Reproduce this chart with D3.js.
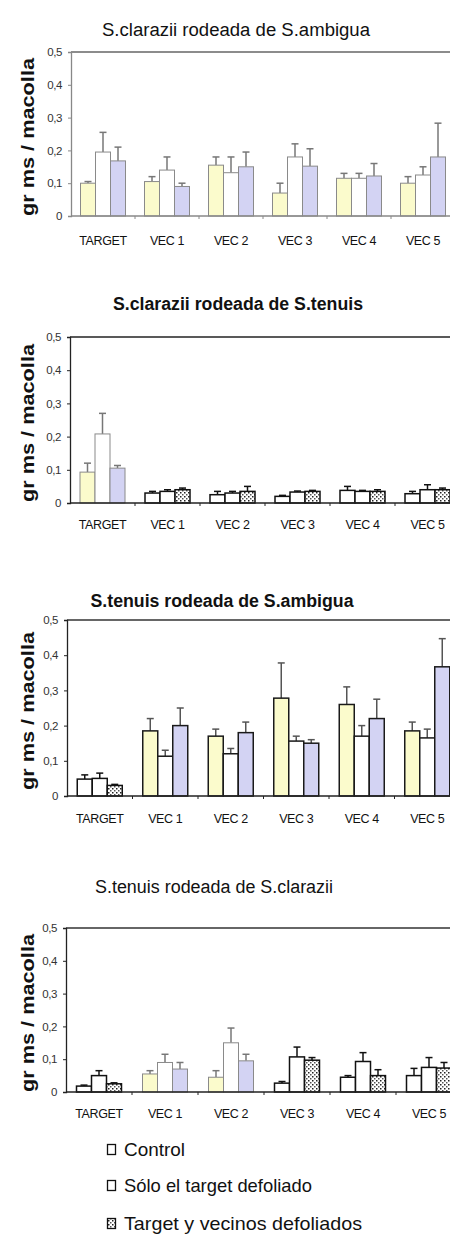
<!DOCTYPE html>
<html><head><meta charset="utf-8">
<script src="https://cdn.jsdelivr.net/npm/d3@7"></script>
<style>
html,body{margin:0;padding:0;background:#fff;}
svg{display:block;font-family:"Liberation Sans",Arial,sans-serif;}
</style></head>
<body>
<script>
// ---------- data ----------
const categories = ["TARGET", "VEC 1", "VEC 2", "VEC 3", "VEC 4", "VEC 5"];
const seriesNames = ["Control", "Sólo el target defoliado", "Target y vecinos defoliados"];
const yTickValues = [0, 0.1, 0.2, 0.3, 0.4, 0.5];
const panelTitles = ["S.clarazii rodeada de S.ambigua", "S.clarazii rodeada de S.tenuis",
                     "S.tenuis rodeada de S.ambigua", "S.tenuis rodeada de S.clarazii"];
const yAxisTitle = "gr ms / macolla";

const p1Control = [0.100, 0.105, 0.155, 0.070, 0.115, 0.100];
const p1Target  = [0.195, 0.140, 0.132, 0.180, 0.115, 0.125];
const p1Both    = [0.168, 0.090, 0.150, 0.152, 0.122, 0.180];
const p1ControlErr = [0.005, 0.015, 0.025, 0.030, 0.015, 0.020];
const p1TargetErr  = [0.060, 0.040, 0.048, 0.040, 0.015, 0.025];
const p1BothErr    = [0.042, 0.010, 0.045, 0.053, 0.038, 0.103];

const p2Control = [0.093, 0.030, 0.025, 0.020, 0.038, 0.028];
const p2Target  = [0.208, 0.035, 0.030, 0.033, 0.035, 0.040];
const p2Both    = [0.105, 0.040, 0.035, 0.035, 0.035, 0.040];
const p2ControlErr = [0.027, 0.005, 0.010, 0.003, 0.012, 0.007];
const p2TargetErr  = [0.062, 0.005, 0.005, 0.003, 0.003, 0.015];
const p2BothErr    = [0.008, 0.005, 0.015, 0.003, 0.005, 0.005];

const p3Control = [0.048, 0.185, 0.170, 0.278, 0.260, 0.185];
const p3Target  = [0.050, 0.113, 0.120, 0.156, 0.170, 0.165];
const p3Both    = [0.030, 0.200, 0.180, 0.150, 0.220, 0.367];
const p3ControlErr = [0.012, 0.035, 0.020, 0.100, 0.050, 0.025];
const p3TargetErr  = [0.015, 0.017, 0.015, 0.014, 0.030, 0.025];
const p3BothErr    = [0.003, 0.050, 0.030, 0.010, 0.055, 0.080];

const p4Control = [0.018, 0.055, 0.045, 0.027, 0.045, 0.050];
const p4Target  = [0.050, 0.090, 0.150, 0.107, 0.093, 0.075];
const p4Both    = [0.025, 0.070, 0.095, 0.097, 0.050, 0.073];
const p4ControlErr = [0.003, 0.010, 0.020, 0.005, 0.005, 0.022];
const p4TargetErr  = [0.015, 0.025, 0.045, 0.030, 0.027, 0.030];
const p4BothErr    = [0.003, 0.020, 0.020, 0.008, 0.018, 0.017];

// ---------- styles / layout (kept separate from data) ----------
const fills = ["#fbfbcc", "#ffffff", "#d3d3f3"];
const panels = [
  {title: panelTitles[0], bold: false, titleX: 236, titleY: 36, titleW: 268, top: 52, bottom: 216, left: 71, step: 64, labelY: 245,
   vals: [p1Control, p1Target, p1Both], errs: [p1ControlErr, p1TargetErr, p1BothErr],
   styles: ["color","color","color","color","color","color"], axisColor: "#888", topColor: "#666"},
  {title: panelTitles[1], bold: true, titleX: 238, titleY: 310, titleW: 250, top: 337, bottom: 503, left: 70, step: 65, labelY: 529,
   vals: [p2Control, p2Target, p2Both], errs: [p2ControlErr, p2TargetErr, p2BothErr],
   styles: ["color","mono","mono","mono","mono","mono"], axisColor: "#222", topColor: "#222"},
  {title: panelTitles[2], bold: true, titleX: 222, titleY: 607, titleW: 263, top: 620, bottom: 796, left: 67, step: 65.5, labelY: 823,
   vals: [p3Control, p3Target, p3Both], errs: [p3ControlErr, p3TargetErr, p3BothErr],
   styles: ["monoColor","dark","dark","dark","dark","dark"], axisColor: "#222", topColor: "#333"},
  {title: panelTitles[3], bold: false, titleX: 214, titleY: 893, titleW: 238, top: 928, bottom: 1092, left: 66, step: 66, labelY: 1118,
   vals: [p4Control, p4Target, p4Both], errs: [p4ControlErr, p4TargetErr, p4BothErr],
   styles: ["mono","color","color","mono","mono","mono"], axisColor: "#222", topColor: "#333"}
];

const W = 450, H = 1237;
const svg = d3.select("body").append("svg").attr("width", W).attr("height", H);
const defs = svg.append("defs");
const pat = defs.append("pattern").attr("id", "dots").attr("width", 4).attr("height", 4)
  .attr("patternUnits", "userSpaceOnUse");
pat.append("rect").attr("width", 4).attr("height", 4).attr("fill", "#fff");
pat.append("rect").attr("x", 0).attr("y", 0).attr("width", 1.5).attr("height", 1.5).attr("fill", "#222");
pat.append("rect").attr("x", 2).attr("y", 2).attr("width", 1.5).attr("height", 1.5).attr("fill", "#555");

const fmt = d => d === 0 ? "0" : d3.format(".1f")(d).replace(".", ",");

panels.forEach(p => {
  const g = svg.append("g");
  const x = d3.scaleBand().domain(categories).range([p.left, p.left + p.step * categories.length]);
  const groupW = 45;
  const xi = d3.scaleBand().domain([0, 1, 2]).range([(p.step - groupW) / 2, (p.step + groupW) / 2]);
  const y = d3.scaleLinear().domain([0, 0.5]).range([p.bottom, p.top]);

  // title
  g.append("text").attr("x", p.titleX).attr("y", p.titleY).attr("text-anchor", "middle")
    .attr("font-size", p.bold ? 17.5 : 18).attr("font-weight", p.bold ? "bold" : "normal")
    .attr("textLength", p.titleW).attr("lengthAdjust", "spacingAndGlyphs")
    .attr("fill", "#111").text(p.title);

  // y-axis title
  g.append("text").attr("transform", `translate(34,${(p.top + p.bottom) / 2 + 3}) rotate(-90)`)
    .attr("text-anchor", "middle").attr("font-size", 18).attr("font-weight", "bold")
    .attr("textLength", 158).attr("lengthAdjust", "spacingAndGlyphs")
    .attr("fill", "#111").text(yAxisTitle);

  // top line
  g.append("line").attr("x1", p.left).attr("x2", W).attr("y1", y(0.5)).attr("y2", y(0.5))
    .attr("stroke", p.topColor).attr("stroke-width", 1.3);

  // y axis
  const ya = d3.axisLeft(y).tickValues(yTickValues).tickFormat(fmt).tickSize(3).tickPadding(6);
  const yg = g.append("g").attr("transform", `translate(${p.left},0)`).call(ya);
  yg.select(".domain").attr("stroke", p.axisColor).attr("stroke-width", 1.3);
  yg.selectAll(".tick line").attr("stroke", p.axisColor);
  yg.selectAll(".tick text").attr("font-size", 11.5).attr("fill", "#333")
    .attr("font-family", "\"Liberation Sans\",Arial,sans-serif").attr("letter-spacing", -0.4);

  // bars
  categories.forEach((c, ci) => {
    const st = p.styles[ci];
    [0, 1, 2].forEach(si => {
      const v = p.vals[si][ci], e = p.errs[si][ci];
      const bx = x(c) + xi(si), bw = xi.bandwidth();
      let fill = fills[si], stroke = "#8a8a8a", sw = 1, ecol = "#777";
      if (st === "mono" || st === "monoColor") { fill = si === 2 ? "url(#dots)" : "#fff"; stroke = "#111"; sw = 1.5; ecol = "#111"; }
      if (st === "dark") { stroke = "#1a1a1a"; sw = 1.5; ecol = "#555"; }
      const cx = bx + bw / 2;
      g.append("line").attr("x1", cx).attr("x2", cx).attr("y1", y(v)).attr("y2", y(v + e))
        .attr("stroke", ecol).attr("stroke-width", 1.5);
      g.append("line").attr("x1", cx - 3.5).attr("x2", cx + 3.5).attr("y1", y(v + e)).attr("y2", y(v + e))
        .attr("stroke", ecol).attr("stroke-width", 1.5);
      g.append("rect").attr("x", bx).attr("y", y(v)).attr("width", bw).attr("height", y(0) - y(v))
        .attr("fill", fill).attr("stroke", stroke).attr("stroke-width", sw);
    });
  });

  // x axis
  g.append("line").attr("x1", p.left).attr("x2", W).attr("y1", y(0)).attr("y2", y(0))
    .attr("stroke", p.axisColor).attr("stroke-width", 1.5);
  categories.slice(1).forEach(c => {
    g.append("line").attr("x1", x(c)).attr("x2", x(c)).attr("y1", y(0)).attr("y2", y(0) + 3)
      .attr("stroke", p.axisColor).attr("stroke-width", 1);
  });
  categories.forEach(c => {
    g.append("text").attr("x", x(c) + p.step / 2).attr("y", p.labelY).attr("text-anchor", "middle")
      .attr("font-size", 12.5).attr("letter-spacing", -0.4).attr("fill", "#111").text(c);
  });
});

// legend
const legY = [1156, 1192, 1230];
const legW = [61, 188, 238];
seriesNames.forEach((s, i) => {
  svg.append("rect").attr("x", 107.5).attr("y", legY[i] - 11.5).attr("width", 8).attr("height", 10)
    .attr("fill", i === 2 ? "url(#dots)" : "#fff").attr("stroke", "#111").attr("stroke-width", 1.3);
  svg.append("text").attr("x", 124).attr("y", legY[i]).attr("font-size", 19)
    .attr("textLength", legW[i]).attr("lengthAdjust", "spacingAndGlyphs")
    .attr("fill", "#111").text(s);
});
</script>
</body></html>
